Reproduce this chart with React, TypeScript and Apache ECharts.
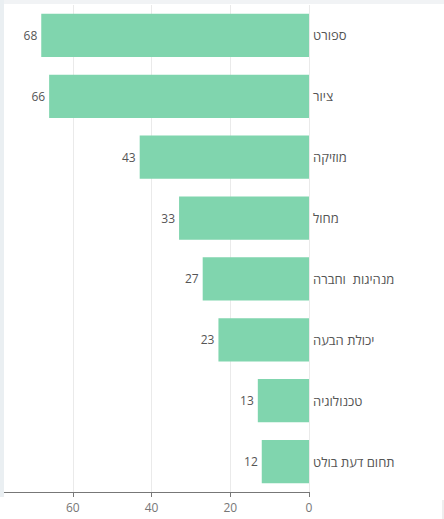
import React, { useEffect, useRef } from "react";
import * as echarts from "echarts";

const categories = [
  "ספורט",
  "ציור",
  "מוזיקה",
  "מחול",
  "מנהיגות  וחברה",
  "יכולת הבעה",
  "טכנולוגיה",
  "תחום דעת בולט",
];
const values = [68, 66, 43, 33, 27, 23, 13, 12];
const xTicks = [0, 20, 40, 60, 80];

export default function App() {
  const ref = useRef<HTMLDivElement>(null);
  useEffect(() => {
    if (!ref.current) return;
    const chart = echarts.init(ref.current, null, { renderer: "svg" });
    const font = "'Open Sans', 'Liberation Sans', sans-serif";
    const off = 6;
    chart.setOption({
      animation: false,
      backgroundColor: "#ffffff",
      grid: { left: 0, right: 135, top: 5, bottom: 27, containLabel: false },
      xAxis: {
        type: "value",
        inverse: true,
        min: xTicks[0],
        max: xTicks[xTicks.length - 1],
        interval: 20,
        axisLine: { show: true, lineStyle: { color: "#777", width: 1 } },
        axisTick: { show: true, length: 5, lineStyle: { color: "#777" } },
        axisLabel: {
          color: "#777",
          fontSize: 12,
          fontFamily: font,
          margin: 9,
          showMaxLabel: false,
        },
        splitLine: { show: true, lineStyle: { color: "#eaeaea", width: 1 } },
      },
      yAxis: {
        type: "category",
        data: categories,
        inverse: true,
        position: "right",
        axisLine: { show: false },
        axisTick: { show: false },
        axisLabel: {
          color: "#555",
          fontSize: 13,
          fontFamily: font,
          margin: 4,
          align: "left",
        },
      },
      series: [
        {
          type: "bar",
          data: values,
          barCategoryGap: "29%",
          itemStyle: { color: "#80d5ae" },
          label: {
            show: true,
            position: "left",
            distance: 4,
            color: "#555",
            fontSize: 12,
            fontFamily: font,
          },
        },
      ],
      graphic: [
        {
          type: "rect",
          left: off,
          top: 0,
          shape: { width: 444, height: 4 },
          style: { fill: "#f1f3f5" },
          z: 100,
        },
        {
          type: "rect",
          left: 0,
          top: 0,
          shape: { width: off + 4, height: 497 },
          style: { fill: "#eaeff2" },
          z: 100,
        },
        {
          type: "rect",
          left: off + 442,
          top: 500,
          shape: { width: 2, height: 19 },
          style: { fill: "#eeeeee" },
          z: 100,
        },
      ],
    });
    return () => chart.dispose();
  }, []);
  return (
    <div
      ref={ref}
      style={{ width: 450, height: 519, position: "fixed", left: -6, top: 0 }}
    />
  );
}
